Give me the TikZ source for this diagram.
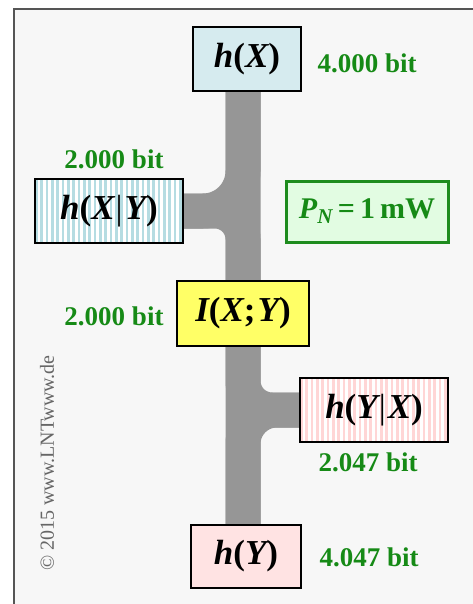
\documentclass[tikz,border=0pt]{standalone}
\usepackage{fontspec}
\setmainfont{Liberation Serif}
\usetikzlibrary{calc}
\pgfdeclarelayer{frame}
\pgfdeclarelayer{pipes}
\pgfsetlayers{frame,pipes,main}
\definecolor{bgc}{HTML}{F7F7F7}
\definecolor{framec}{HTML}{555555}
\definecolor{pipec}{HTML}{969696}
\definecolor{lblgreen}{HTML}{168A16}
\definecolor{hxfill}{HTML}{D6EBEF}
\definecolor{hyfill}{HTML}{FFE3E3}
\definecolor{ifill}{HTML}{FFFF66}
\definecolor{pnfill}{HTML}{E2FCE2}
\definecolor{pnborder}{HTML}{1E8C1E}
\definecolor{bluestripe}{HTML}{B5DCE2}
\definecolor{pinkstripe}{HTML}{FFD6D6}
\newcommand{\bi}[1]{{\bfseries\itshape #1}}
\newcommand{\bu}[1]{{\bfseries #1}}
\tikzset{
  box/.style={draw=black, line width=1.3pt, inner sep=0pt, font=\fontsize{35}{40}\selectfont},
  bitlbl/.style={text=lblgreen, font=\fontsize{27}{30}\selectfont\bfseries, inner sep=0pt},
  pipe/.style={draw=pipec, line width=35pt, line cap=butt},
  stripes/.style={path picture={\foreach \k in {0,...,30}
      \fill[#1] ([xshift=\k*5.33pt]path picture bounding box.south west) rectangle ++(2.7pt,100pt);}}
}
\begin{document}
\begin{tikzpicture}[x=1pt,y=-1pt]
\useasboundingbox (0,0) rectangle (472,604);
\begin{pgfonlayer}{frame}
\fill[white] (0,0) rectangle (472,604);
\draw[fill=bgc, draw=framec, line width=1.5pt] (14,9) rectangle (495,625);
\end{pgfonlayer}

% nodes
\node[box, fill=hxfill, minimum width=108pt, minimum height=64pt] (hX) at (247,59)
  {\bi{h}\bu{(}\bi{X}\bu{)}};
\node[box, fill=white, stripes=bluestripe, minimum width=148pt, minimum height=64pt] (hXY) at (109,211)
  {\bi{h}\bu{(}\bi{X}\kern1pt|\kern2pt\bi{Y}\bu{)}};
\node[box, fill=ifill, minimum width=132pt, minimum height=65pt] (iXY) at (243,313.5)
  {\bi{I}\bu{(}\bi{X}\bu{;}\kern2pt\bi{Y}\bu{)}};
\node[box, fill=white, stripes=pinkstripe, minimum width=148pt, minimum height=64pt] (hYX) at (374,410)
  {\bi{h}\bu{(}\bi{Y}\kern1pt|\kern2pt\bi{X}\bu{)}};
\node[box, fill=hyfill, minimum width=110pt, minimum height=63pt] (hY) at (246,556.5)
  {\bi{h}\bu{(}\bi{Y}\bu{)}};
\node[draw=pnborder, line width=3pt, fill=pnfill, inner sep=0pt, minimum width=162pt, minimum height=61pt,
  text=lblgreen, font=\fontsize{30}{34}\selectfont] (PN) at (367,211.5)
  {\bi{P}\textsubscript{\bi{N}}\,\bu{=}\,\bu{1\,mW}};

% pipes
\coordinate (topb) at (iXY.center |- hX.south);
\coordinate (botb) at (iXY.center |- hY.north);
\begin{pgfonlayer}{pipes}
\draw[pipe, line width=34pt] (topb) -- (botb);
\draw[pipe, rounded corners=40pt] (hXY.east) -| (topb);
\draw[pipe, rounded corners=28pt] (hXY.east) -| (botb);
\draw[pipe, rounded corners=29pt] (hYX.west) -| (topb);
\draw[pipe, rounded corners=34pt] (hYX.west) -| (botb);
\end{pgfonlayer}

% labels
\node[bitlbl] (l1) at (367,63) {4.000 bit};
\node[bitlbl] (l2) at (114,159) {2.000 bit};
\node[bitlbl] (l3) at (114,316) {2.000 bit};
\node[bitlbl] (l4) at (368,462) {2.047 bit};
\node[bitlbl] (l5) at (369,557) {4.047 bit};

\node[rotate=90, text=black!60, font=\fontsize{20}{22}\selectfont, inner sep=0pt] (cr) at (47,463)
  {© 2015 www.LNTwww.de};
\end{tikzpicture}
\end{document}
